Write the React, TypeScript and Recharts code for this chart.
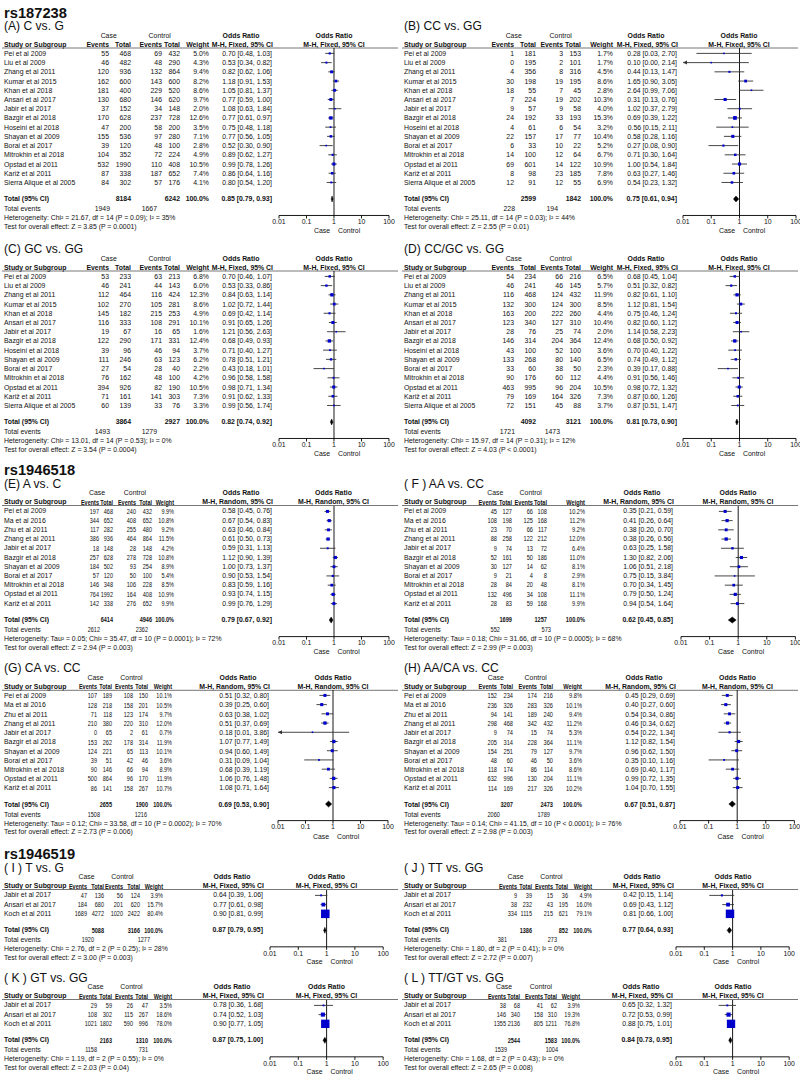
import React from 'react';
import { ScatterChart, Scatter, XAxis, YAxis, ReferenceLine } from 'recharts';

// ---------- DATA ----------
// Row: [caseEvents, caseTotal, ctrlEvents, ctrlTotal, weight%, OR, lower, upper]
type Row = [number, number, number, number, number, number, number, number];

const NAMES_RS187238 = [
  'Pei et al 2009', 'Liu et al 2009', 'Zhang et al 2011', 'Kumar et al 2015', 'Khan et al 2018',
  'Ansari et al 2017', 'Jabir et al 2017', 'Bazgir et al 2018', 'Hoseini et al 2018', 'Shayan et al 2009',
  'Borai et al 2017', 'Mitrokhin et al 2018', 'Opstad et al 2011', 'Kariž et al 2011', 'Sierra Alique et al 2005',
];
const NAMES_RS1946518 = [
  'Pei et al 2009', 'Ma et al 2016', 'Zhu et al 2011', 'Zhang et al 2011', 'Jabir et al 2017',
  'Bazgir et al 2018', 'Shayan et al 2009', 'Borai et al 2017', 'Mitrokhin et al 2018', 'Opstad et al 2011',
  'Kariž et al 2011',
];
const NAMES_RS1946519 = ['Jabir et al 2017', 'Ansari et al 2017', 'Koch et al 2011'];

const AXIS_TICKS = [0.01, 0.1, 1, 10, 100];
const AXIS_TICK_LABELS = ['0.01', '0.1', '1', '10', '100'];

const ROWS_A: Row[] = [
  [55, 468, 69, 432, 5.0, 0.70, 0.48, 1.03],
  [46, 482, 48, 290, 4.3, 0.53, 0.34, 0.82],
  [120, 936, 132, 864, 9.4, 0.82, 0.62, 1.06],
  [162, 600, 143, 600, 8.2, 1.18, 0.91, 1.53],
  [181, 400, 229, 520, 8.6, 1.05, 0.81, 1.37],
  [130, 680, 146, 620, 9.7, 0.77, 0.59, 1.00],
  [37, 152, 34, 148, 2.0, 1.08, 0.63, 1.84],
  [170, 628, 237, 728, 12.6, 0.77, 0.61, 0.97],
  [47, 200, 58, 200, 3.5, 0.75, 0.48, 1.18],
  [155, 536, 97, 280, 7.1, 0.77, 0.56, 1.05],
  [39, 120, 48, 100, 2.8, 0.52, 0.30, 0.90],
  [104, 352, 72, 224, 4.9, 0.89, 0.62, 1.27],
  [532, 1990, 110, 408, 10.5, 0.99, 0.78, 1.26],
  [87, 338, 187, 652, 7.4, 0.86, 0.64, 1.16],
  [84, 302, 57, 176, 4.1, 0.80, 0.54, 1.20],
];
const TOTAL_A = [8184, 6242, 0.85, 0.79, 0.93];
const EVENTS_A = [1949, 1667];
const STATS_A = ['Heterogeneity: Chi² = 21.67, df = 14 (P = 0.09); I² = 35%', 'Test for overall effect: Z = 3.85 (P = 0.0001)'];

const ROWS_B: Row[] = [
  [1, 181, 3, 153, 1.7, 0.28, 0.03, 2.70],
  [0, 195, 2, 101, 1.7, 0.10, 0.00, 2.14],
  [4, 356, 8, 316, 4.5, 0.44, 0.13, 1.47],
  [30, 198, 19, 195, 8.6, 1.65, 0.90, 3.05],
  [18, 55, 7, 45, 2.8, 2.64, 0.99, 7.06],
  [7, 224, 19, 202, 10.3, 0.31, 0.13, 0.76],
  [9, 57, 9, 58, 4.0, 1.02, 0.37, 2.79],
  [24, 192, 33, 193, 15.3, 0.69, 0.39, 1.22],
  [4, 61, 6, 54, 3.2, 0.56, 0.15, 2.11],
  [22, 157, 17, 77, 10.4, 0.58, 0.28, 1.16],
  [6, 33, 10, 22, 5.2, 0.27, 0.08, 0.90],
  [14, 100, 12, 64, 6.7, 0.71, 0.30, 1.64],
  [69, 601, 14, 122, 10.9, 1.00, 0.54, 1.84],
  [8, 98, 23, 185, 7.8, 0.63, 0.27, 1.46],
  [12, 91, 12, 55, 6.9, 0.54, 0.23, 1.32],
];
const TOTAL_B = [2599, 1842, 0.75, 0.61, 0.94];
const EVENTS_B = [228, 194];
const STATS_B = ['Heterogeneity: Chi² = 25.11, df = 14 (P = 0.03); I² = 44%', 'Test for overall effect: Z = 2.55 (P = 0.01)'];

const ROWS_C: Row[] = [
  [53, 233, 63, 213, 6.8, 0.70, 0.46, 1.07],
  [46, 241, 44, 143, 6.0, 0.53, 0.33, 0.86],
  [112, 464, 116, 424, 12.3, 0.84, 0.63, 1.14],
  [102, 270, 105, 281, 8.6, 1.02, 0.72, 1.44],
  [145, 182, 215, 253, 4.9, 0.69, 0.42, 1.14],
  [116, 333, 108, 291, 10.1, 0.91, 0.65, 1.26],
  [19, 67, 16, 65, 1.6, 1.21, 0.56, 2.63],
  [122, 290, 171, 331, 12.4, 0.68, 0.49, 0.93],
  [39, 96, 46, 94, 3.7, 0.71, 0.40, 1.27],
  [111, 246, 63, 123, 6.2, 0.78, 0.51, 1.21],
  [27, 54, 28, 40, 2.2, 0.43, 0.18, 1.01],
  [76, 162, 48, 100, 4.2, 0.96, 0.58, 1.58],
  [394, 926, 82, 190, 10.5, 0.98, 0.71, 1.34],
  [71, 161, 141, 303, 7.3, 0.91, 0.62, 1.33],
  [60, 139, 33, 76, 3.3, 0.99, 0.56, 1.74],
];
const TOTAL_C = [3864, 2927, 0.82, 0.74, 0.92];
const EVENTS_C = [1493, 1279];
const STATS_C = ['Heterogeneity: Chi² = 13.01, df = 14 (P = 0.53); I² = 0%', 'Test for overall effect: Z = 3.54 (P = 0.0004)'];

const ROWS_D: Row[] = [
  [54, 234, 66, 216, 6.5, 0.68, 0.45, 1.04],
  [46, 241, 46, 145, 5.7, 0.51, 0.32, 0.82],
  [116, 468, 124, 432, 11.9, 0.82, 0.61, 1.10],
  [132, 300, 124, 300, 8.5, 1.12, 0.81, 1.54],
  [163, 200, 222, 260, 4.4, 0.75, 0.46, 1.24],
  [123, 340, 127, 310, 10.4, 0.82, 0.60, 1.12],
  [28, 76, 25, 74, 2.0, 1.14, 0.58, 2.23],
  [146, 314, 204, 364, 12.4, 0.68, 0.50, 0.92],
  [43, 100, 52, 100, 3.6, 0.70, 0.40, 1.22],
  [133, 268, 80, 140, 6.5, 0.74, 0.49, 1.12],
  [33, 60, 38, 50, 2.3, 0.39, 0.17, 0.88],
  [90, 176, 60, 112, 4.4, 0.91, 0.56, 1.46],
  [463, 995, 96, 204, 10.5, 0.98, 0.72, 1.32],
  [79, 169, 164, 326, 7.3, 0.87, 0.60, 1.26],
  [72, 151, 45, 88, 3.7, 0.87, 0.51, 1.47],
];
const TOTAL_D = [4092, 3121, 0.81, 0.73, 0.90];
const EVENTS_D = [1721, 1473];
const STATS_D = ['Heterogeneity: Chi² = 15.97, df = 14 (P = 0.31); I² = 12%', 'Test for overall effect: Z = 4.03 (P < 0.0001)'];

const ROWS_E: Row[] = [
  [197, 468, 240, 432, 9.9, 0.58, 0.45, 0.76],
  [344, 652, 408, 652, 10.8, 0.67, 0.54, 0.83],
  [117, 282, 255, 480, 9.2, 0.63, 0.46, 0.84],
  [386, 936, 464, 864, 11.5, 0.61, 0.50, 0.73],
  [18, 148, 28, 148, 4.2, 0.59, 0.31, 1.13],
  [257, 628, 278, 728, 10.8, 1.12, 0.90, 1.39],
  [184, 502, 93, 254, 8.9, 1.00, 0.73, 1.37],
  [57, 120, 50, 100, 5.4, 0.90, 0.53, 1.54],
  [146, 348, 106, 228, 8.5, 0.83, 0.59, 1.16],
  [764, 1992, 164, 408, 10.9, 0.93, 0.74, 1.15],
  [142, 338, 276, 652, 9.9, 0.99, 0.76, 1.29],
];
const TOTAL_E = [6414, 4946, 0.79, 0.67, 0.92];
const EVENTS_E = [2612, 2362];
const STATS_E = ['Heterogeneity: Tau² = 0.05; Chi² = 35.47, df = 10 (P = 0.0001); I² = 72%', 'Test for overall effect: Z = 2.94 (P = 0.003)'];

const ROWS_F: Row[] = [
  [45, 127, 66, 108, 10.2, 0.35, 0.21, 0.59],
  [108, 198, 125, 168, 11.2, 0.41, 0.26, 0.64],
  [23, 70, 66, 117, 9.2, 0.38, 0.20, 0.70],
  [88, 258, 122, 212, 12.0, 0.38, 0.26, 0.56],
  [9, 74, 13, 72, 6.4, 0.63, 0.25, 1.58],
  [52, 161, 50, 186, 11.0, 1.30, 0.82, 2.06],
  [30, 127, 14, 62, 8.1, 1.06, 0.51, 2.18],
  [9, 21, 4, 8, 2.9, 0.75, 0.15, 3.84],
  [28, 84, 20, 48, 8.1, 0.70, 0.34, 1.45],
  [132, 496, 34, 108, 11.1, 0.79, 0.50, 1.24],
  [28, 83, 59, 168, 9.9, 0.94, 0.54, 1.64],
];
const TOTAL_F = [1699, 1257, 0.62, 0.45, 0.85];
const EVENTS_F = [552, 573];
const STATS_F = ['Heterogeneity: Tau² = 0.18; Chi² = 31.66, df = 10 (P = 0.0005); I² = 68%', 'Test for overall effect: Z = 2.99 (P = 0.003)'];

const ROWS_G: Row[] = [
  [107, 189, 108, 150, 10.1, 0.51, 0.32, 0.80],
  [128, 218, 158, 201, 10.5, 0.39, 0.25, 0.60],
  [71, 118, 123, 174, 9.7, 0.63, 0.38, 1.02],
  [210, 380, 220, 310, 12.0, 0.51, 0.37, 0.69],
  [0, 65, 2, 61, 0.7, 0.18, 0.01, 3.86],
  [153, 262, 178, 314, 11.9, 1.07, 0.77, 1.49],
  [124, 221, 65, 113, 10.1, 0.94, 0.60, 1.49],
  [39, 51, 42, 46, 3.6, 0.31, 0.09, 1.04],
  [90, 146, 66, 94, 8.9, 0.68, 0.39, 1.19],
  [500, 864, 96, 170, 11.9, 1.06, 0.76, 1.48],
  [86, 141, 158, 267, 10.7, 1.08, 0.71, 1.64],
];
const TOTAL_G = [2655, 1900, 0.69, 0.53, 0.90];
const EVENTS_G = [1508, 1216];
const STATS_G = ['Heterogeneity: Tau² = 0.12; Chi² = 33.58, df = 10 (P = 0.0002); I² = 70%', 'Test for overall effect: Z = 2.73 (P = 0.006)'];

const ROWS_H: Row[] = [
  [152, 234, 174, 216, 9.8, 0.45, 0.29, 0.69],
  [236, 326, 283, 326, 10.1, 0.40, 0.27, 0.60],
  [94, 141, 189, 240, 9.4, 0.54, 0.34, 0.86],
  [298, 468, 342, 432, 11.2, 0.46, 0.34, 0.62],
  [9, 74, 15, 74, 5.3, 0.54, 0.22, 1.34],
  [205, 314, 228, 364, 11.1, 1.12, 0.82, 1.54],
  [154, 251, 79, 127, 9.7, 0.96, 0.62, 1.50],
  [48, 60, 46, 50, 3.6, 0.35, 0.10, 1.16],
  [118, 174, 86, 114, 8.6, 0.69, 0.40, 1.17],
  [632, 996, 130, 204, 11.1, 0.99, 0.72, 1.35],
  [114, 169, 217, 326, 10.2, 1.04, 0.70, 1.55],
];
const TOTAL_H = [3207, 2473, 0.67, 0.51, 0.87];
const EVENTS_H = [2060, 1789];
const STATS_H = ['Heterogeneity: Tau² = 0.14; Chi² = 41.15, df = 10 (P < 0.0001); I² = 76%', 'Test for overall effect: Z = 2.98 (P = 0.003)'];

const ROWS_I: Row[] = [
  [47, 136, 56, 124, 3.9, 0.64, 0.39, 1.06],
  [184, 680, 201, 620, 15.7, 0.77, 0.61, 0.98],
  [1689, 4272, 1020, 2422, 80.4, 0.90, 0.81, 0.99],
];
const TOTAL_I = [5088, 3166, 0.87, 0.79, 0.95];
const EVENTS_I = [1920, 1277];
const STATS_I = ['Heterogeneity: Chi² = 2.76, df = 2 (P = 0.25); I² = 28%', 'Test for overall effect: Z = 3.00 (P = 0.003)'];

const ROWS_J: Row[] = [
  [9, 39, 15, 36, 4.9, 0.42, 0.15, 1.14],
  [38, 232, 43, 195, 16.0, 0.69, 0.43, 1.12],
  [334, 1115, 215, 621, 79.1, 0.81, 0.66, 1.00],
];
const TOTAL_J = [1386, 852, 0.77, 0.64, 0.93];
const EVENTS_J = [381, 273];
const STATS_J = ['Heterogeneity: Chi² = 1.80, df = 2 (P = 0.41); I² = 0%', 'Test for overall effect: Z = 2.72 (P = 0.007)'];

const ROWS_K: Row[] = [
  [29, 59, 26, 47, 3.5, 0.78, 0.36, 1.68],
  [108, 302, 115, 267, 18.6, 0.74, 0.52, 1.03],
  [1021, 1802, 590, 996, 78.0, 0.90, 0.77, 1.05],
];
const TOTAL_K = [2163, 1310, 0.87, 0.75, 1.00];
const EVENTS_K = [1158, 731];
const STATS_K = ['Heterogeneity: Chi² = 1.19, df = 2 (P = 0.55); I² = 0%', 'Test for overall effect: Z = 2.03 (P = 0.04)'];

const ROWS_L: Row[] = [
  [38, 68, 41, 62, 3.9, 0.65, 0.32, 1.32],
  [146, 340, 158, 310, 19.3, 0.72, 0.53, 0.99],
  [1355, 2136, 805, 1211, 76.8, 0.88, 0.75, 1.01],
];
const TOTAL_L = [2544, 1583, 0.84, 0.73, 0.95];
const EVENTS_L = [1539, 1004];
const STATS_L = ['Heterogeneity: Chi² = 1.68, df = 2 (P = 0.43); I² = 0%', 'Test for overall effect: Z = 2.65 (P = 0.008)'];

// ---------- LAYOUT / STYLE ----------
const FONT = '"Liberation Sans", Arial, Helvetica, sans-serif';
const FS = 6.9;
const ROW_H = 9.22;
const TXT = '#111';
const SQ = '#0000CD';
const CI = '#333';
const FIXED = 'M-H, Fixed, 95% CI';
const RANDOM = 'M-H, Random, 95% CI';

type Layout = { left: number; T: number; cols: number[]; te: number[]; center: number; dec: number; sx: number };
type PanelDef = {
  rs?: string; title: string; method: string; names: string[]; rows: Row[];
  total: number[]; events: number[]; stats: string[]; layout: Layout;
};

const COLS_AC = [109, 131, 162, 180, 209, 272];
const COLS_BD = [514, 536, 563, 581, 613, 677];

const PANELS: PanelDef[] = [
  { rs: 'rs187238', title: '(A) C vs. G', method: FIXED, names: NAMES_RS187238, rows: ROWS_A, total: TOTAL_A, events: EVENTS_A, stats: STATS_A,
    layout: { left: 0, T: 26, cols: COLS_AC, te: [110, 157], center: 334, dec: 27.5, sx: 1 } },
  { title: '(B) CC vs. GG', method: FIXED, names: NAMES_RS187238, rows: ROWS_B, total: TOTAL_B, events: EVENTS_B, stats: STATS_B,
    layout: { left: 400, T: 26, cols: COLS_BD, te: [515, 558], center: 739, dec: 28.25, sx: 1 } },
  { title: '(C) GC vs. GG', method: FIXED, names: NAMES_RS187238, rows: ROWS_C, total: TOTAL_C, events: EVENTS_C, stats: STATS_C,
    layout: { left: 0, T: 249, cols: COLS_AC, te: [110, 157], center: 334, dec: 27.5, sx: 1 } },
  { title: '(D) CC/GC vs. GG', method: FIXED, names: NAMES_RS187238, rows: ROWS_D, total: TOTAL_D, events: EVENTS_D, stats: STATS_D,
    layout: { left: 400, T: 249, cols: COLS_BD, te: [515, 560], center: 739, dec: 28.25, sx: 1 } },
  { rs: 'rs1946518', title: '(E) A vs. C', method: RANDOM, names: NAMES_RS1946518, rows: ROWS_E, total: TOTAL_E, events: EVENTS_E, stats: STATS_E,
    layout: { left: 0, T: 483.5, cols: [99, 113, 136, 152, 174, 272], te: [100, 148], center: 333.5, dec: 27.5, sx: 0.8 } },
  { title: '( F ) AA vs. CC', method: RANDOM, names: NAMES_RS1946518, rows: ROWS_F, total: TOTAL_F, events: EVENTS_F, stats: STATS_F,
    layout: { left: 400, T: 483.5, cols: [497, 512, 533, 547, 585, 673], te: [500, 551], center: 738, dec: 28.6, sx: 0.82 } },
  { title: '(G) CA vs. CC', method: RANDOM, names: NAMES_RS1946518, rows: ROWS_G, total: TOTAL_G, events: EVENTS_G, stats: STATS_G,
    layout: { left: 0, T: 668.3, cols: [97, 112, 133, 148, 172, 269], te: [100, 147], center: 333, dec: 27.5, sx: 0.8 } },
  { title: '(H) AA/CA vs. CC', method: RANDOM, names: NAMES_RS1946518, rows: ROWS_H, total: TOTAL_H, events: EVENTS_H, stats: STATS_H,
    layout: { left: 400, T: 668.3, cols: [497, 513, 537, 553, 582, 675], te: [500, 550], center: 737.5, dec: 28.6, sx: 0.82 } },
  { rs: 'rs1946519', title: '( I ) T vs. G', method: FIXED, names: NAMES_RS1946519, rows: ROWS_I, total: TOTAL_I, events: EVENTS_I, stats: STATS_I,
    layout: { left: 0, T: 867.5, cols: [87, 104, 123, 140, 163, 263], te: [94, 150], center: 326.5, dec: 28.3, sx: 0.8 } },
  { title: '( J ) TT vs. GG', method: FIXED, names: NAMES_RS1946519, rows: ROWS_J, total: TOTAL_J, events: EVENTS_J, stats: STATS_J,
    layout: { left: 400, T: 867.5, cols: [517, 532, 553, 568, 592, 673], te: [507, 557], center: 733, dec: 28.3, sx: 0.8 } },
  { title: '( K ) GT vs. GG', method: FIXED, names: NAMES_RS1946519, rows: ROWS_K, total: TOTAL_K, events: EVENTS_K, stats: STATS_K,
    layout: { left: 0, T: 977.5, cols: [97, 112, 133, 148, 172, 263], te: [97, 148], center: 326.5, dec: 28.3, sx: 0.8 } },
  { title: '( L ) TT/GT vs. GG', method: FIXED, names: NAMES_RS1946519, rows: ROWS_L, total: TOTAL_L, events: EVENTS_L, stats: STATS_L,
    layout: { left: 400, T: 977.5, cols: [506, 520, 543, 557, 580, 672], te: [507, 558], center: 733, dec: 28.3, sx: 0.8 } },
];

// ---------- HELPERS ----------
const geom = (p: PanelDef) => {
  const L = p.layout;
  const n = p.rows.length;
  const lineY = L.T + 22;
  const rowY = (i: number) => L.T + 27.4 + i * ROW_H;
  const totalY = rowY(n - 1) + 16.5;
  const axisY = totalY + 16.5;
  return { L, n, lineY, rowY, totalY, axisY };
};

const fmtOR = (o: number, lo: number, hi: number) => `${o.toFixed(2)} [${lo.toFixed(2)}, ${hi.toFixed(2)}]`;

function T(props: { x: number; y: number; children: React.ReactNode; a?: 'start' | 'middle' | 'end'; b?: boolean; s?: number; sx?: number }) {
  const sx = props.sx ?? 1;
  const common = {
    textAnchor: props.a || 'start',
    dominantBaseline: 'central' as const,
    fontSize: props.s || FS,
    fontWeight: props.b ? 'bold' : 'normal',
    fill: TXT,
    fontFamily: FONT,
  };
  if (sx !== 1) {
    return (
      <text {...common} x={0} y={0} transform={`translate(${props.x},${props.y}) scale(${sx},1)`}>
        {props.children}
      </text>
    );
  }
  return (
    <text {...common} x={props.x} y={props.y}>
      {props.children}
    </text>
  );
}

function PanelText({ p }: { p: PanelDef }) {
  const { L, lineY, rowY, totalY, axisY } = geom(p);
  const [cEv, cTot, kEv, kTot, wCol, orCol] = L.cols;
  const sx = L.sx;
  const x0 = L.left + 4;
  const h1 = L.T + 9;
  const h2 = L.T + 18.3;
  const evW = 22.6 * sx;
  return (
    <g>
      {p.rs && <T x={x0} y={L.T - 13.5} s={14.7} b>{p.rs}</T>}
      <T x={x0} y={L.T} s={12.1}>{p.title}</T>
      <T x={(cEv - evW + cTot) / 2} y={h1} a="middle">Case</T>
      <T x={(kEv - evW + kTot) / 2} y={h1} a="middle">Control</T>
      <T x={orCol - 31} y={h1} a="middle" b>Odds Ratio</T>
      <T x={L.center} y={h1} a="middle" b>Odds Ratio</T>
      <T x={x0} y={h2} b>Study or Subgroup</T>
      <T x={cEv} y={h2} a="end" b sx={sx}>Events</T>
      <T x={cTot} y={h2} a="end" b sx={sx}>Total</T>
      <T x={kEv} y={h2} a="end" b sx={sx}>Events</T>
      <T x={kTot} y={h2} a="end" b sx={sx}>Total</T>
      <T x={wCol} y={h2} a="end" b sx={sx}>Weight</T>
      <T x={orCol + 1} y={h2} a="end" b>{p.method}</T>
      <T x={L.center} y={h2} a="middle" b>{p.method}</T>
      <line x1={L.left + 2} x2={L.left + 398} y1={lineY} y2={lineY} stroke="#666" strokeWidth={0.9} />
      {p.rows.map((r, i) => (
        <g key={i}>
          <T x={x0} y={rowY(i)}>{p.names[i]}</T>
          <T x={cEv} y={rowY(i)} a="end" sx={sx}>{r[0]}</T>
          <T x={cTot} y={rowY(i)} a="end" sx={sx}>{r[1]}</T>
          <T x={kEv} y={rowY(i)} a="end" sx={sx}>{r[2]}</T>
          <T x={kTot} y={rowY(i)} a="end" sx={sx}>{r[3]}</T>
          <T x={wCol} y={rowY(i)} a="end" sx={sx}>{`${r[4].toFixed(1)}%`}</T>
          <T x={orCol} y={rowY(i)} a="end">{fmtOR(r[5], r[6], r[7])}</T>
        </g>
      ))}
      <T x={x0} y={totalY} b>Total (95% CI)</T>
      <T x={cTot} y={totalY} a="end" b sx={sx}>{p.total[0]}</T>
      <T x={kTot} y={totalY} a="end" b sx={sx}>{p.total[1]}</T>
      <T x={wCol} y={totalY} a="end" b sx={sx}>100.0%</T>
      <T x={orCol} y={totalY} a="end" b>{fmtOR(p.total[2], p.total[3], p.total[4])}</T>
      <T x={x0} y={totalY + 9.7}>Total events</T>
      <T x={L.te[0]} y={totalY + 9.7} a="end" sx={sx}>{p.events[0]}</T>
      <T x={L.te[1]} y={totalY + 9.7} a="end" sx={sx}>{p.events[1]}</T>
      <T x={x0} y={totalY + 18.6}>{p.stats[0]}</T>
      <T x={x0} y={totalY + 27.5}>{p.stats[1]}</T>
      <T x={L.center - 4} y={axisY + 15.5} a="end">Case</T>
      <T x={L.center + 4} y={axisY + 15.5}>Control</T>
    </g>
  );
}

const Empty = () => <g />;
const SquareShape = (props: any) => {
  const { cx, cy, payload } = props;
  if (cx == null || cy == null) return <g />;
  const s = Math.max(1.6, 0.95 * Math.sqrt(payload.w));
  return <rect x={cx - s / 2} y={cy - s / 2} width={s} height={s} fill={SQ} />;
};
const ArrowShape = (props: any) => {
  const { cx, cy } = props;
  if (cx == null || cy == null) return <g />;
  return <path d={`M${cx},${cy} L${cx + 4},${cy - 2} L${cx + 4},${cy + 2} Z`} fill={CI} />;
};

function PanelChart({ p }: { p: PanelDef }) {
  const { L, lineY, rowY, totalY, axisY } = geom(p);
  const H = axisY - lineY;
  const PADX = 14;
  const AXH = 14;
  const W = 4 * L.dec + 2 * PADX;
  const ry = (i: number) => rowY(i) - lineY;
  const ty = totalY - lineY;
  const squares = p.rows.map((r, i) => ({ x: r[5], y: ry(i), w: r[4] }));
  const arrows = p.rows
    .map((r, i) => ({ x: r[6], y: ry(i) }))
    .filter((d) => d.x <= 0.01)
    .map((d) => ({ x: 0.01, y: d.y }));
  const diamond = [
    { x: p.total[3], y: ty },
    { x: p.total[2], y: ty - 3 },
    { x: p.total[4], y: ty },
    { x: p.total[2], y: ty + 3 },
  ];
  return (
    <div style={{ position: 'absolute', left: L.center - 2 * L.dec - PADX, top: lineY }}>
      <ScatterChart width={W} height={H + AXH} margin={{ top: 0, right: PADX, bottom: 0, left: PADX }}>
        <XAxis
          type="number" dataKey="x" scale="log" domain={[0.01, 100]} ticks={AXIS_TICKS} interval={0}
          allowDataOverflow height={AXH} tickSize={3} tickMargin={1}
          tickFormatter={(v: number) => AXIS_TICK_LABELS[AXIS_TICKS.indexOf(v)] ?? String(v)}
          axisLine={{ stroke: '#000', strokeWidth: 0.9 }} tickLine={{ stroke: '#000', strokeWidth: 0.9 }}
          tick={{ fill: TXT, fontSize: FS, fontFamily: FONT }}
        />
        <YAxis type="number" dataKey="y" domain={[0, H]} reversed hide allowDataOverflow />
        <ReferenceLine x={1} stroke="#000" strokeWidth={0.9} />
        {p.rows.map((r, i) => (
          <Scatter
            key={'ci' + i}
            data={[{ x: Math.max(0.01, r[6]), y: ry(i) }, { x: r[7], y: ry(i) }]}
            line={{ stroke: CI, strokeWidth: 0.9 }}
            shape={Empty}
            isAnimationActive={false}
          />
        ))}
        <Scatter data={squares} shape={SquareShape} isAnimationActive={false} />
        {arrows.length > 0 && <Scatter data={arrows} shape={ArrowShape} isAnimationActive={false} />}
        <Scatter
          data={diamond}
          shape={Empty}
          line={{ fill: '#000', stroke: '#000', strokeWidth: 0.5 }}
          lineJointType="linearClosed"
          isAnimationActive={false}
        />
      </ScatterChart>
    </div>
  );
}

export default function App() {
  return (
    <div style={{ position: 'absolute', left: 0, top: 0, width: 800, height: 1080, background: '#fff', overflow: 'hidden', fontFamily: FONT }}>
      <svg width={800} height={1080} style={{ position: 'absolute', left: 0, top: 0 }}>
        {PANELS.map((p, i) => <PanelText key={i} p={p} />)}
      </svg>
      {PANELS.map((p, i) => <PanelChart key={i} p={p} />)}
    </div>
  );
}
